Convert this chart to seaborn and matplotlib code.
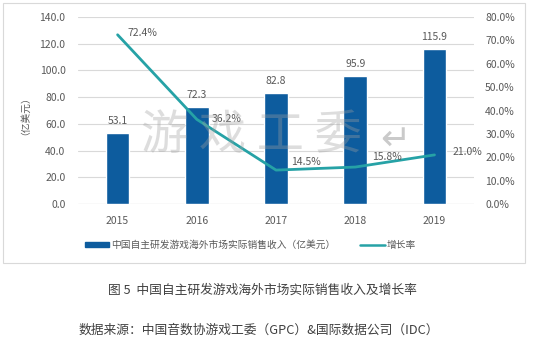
import matplotlib
matplotlib.use('Agg')
import matplotlib.pyplot as plt
import matplotlib.ticker as ticker
from matplotlib.patches import Rectangle
from matplotlib.lines import Line2D
import seaborn as sns
import pandas as pd

years = ['2015', '2016', '2017', '2018', '2019']
revenue = [53.1, 72.3, 82.8, 95.9, 115.9]
growth = [72.4, 36.2, 14.5, 15.8, 21.0]

bar_color = '#0d5c9e'
line_color = '#26a2a6'
txt = '#595959'

sns.set_theme(style='white')
plt.rcParams['font.family'] = ['Noto Sans CJK SC', 'DejaVu Sans']

df = pd.DataFrame({'year': years, 'revenue': revenue, 'growth': growth})

fig = plt.figure(figsize=(5.5, 3.59), dpi=100)
fig.patch.set_facecolor('white')
ax = fig.add_axes([0.1418, 0.4318, 0.7202, 0.5208])

sns.barplot(data=df, x='year', y='revenue', color=bar_color, width=0.3,
            saturation=1, ax=ax, zorder=2)
ax.set_ylim(0, 140)
ax.yaxis.set_major_locator(ticker.MultipleLocator(20))
ax.yaxis.set_major_formatter(ticker.StrMethodFormatter('{x:.1f}'))
ax.grid(axis='y', color='#d9d9d9', linewidth=0.8, zorder=0)
ax.set_axisbelow(True)
for s in ax.spines.values():
    s.set_visible(False)
ax.axhline(0, color='#d0d0d0', linewidth=0.8, zorder=1)
ax.tick_params(axis='y', length=0, pad=9, labelsize=7.5, labelcolor=txt)
ax.tick_params(axis='x', length=0, pad=9, labelsize=7.5, labelcolor=txt)
ax.set_xlabel('')
ax.set_ylabel('（亿美元）', fontsize=7, color=txt, labelpad=10)
ax.bar_label(ax.containers[0], fmt='%.1f', padding=5, fontsize=7.5, color=txt)

ax2 = ax.twinx()
sns.lineplot(data=df, x='year', y='growth', color=line_color, linewidth=2,
             sort=False, ax=ax2)
ax2.set_ylim(0, 80)
ax2.yaxis.set_major_locator(ticker.MultipleLocator(10))
ax2.yaxis.set_major_formatter(ticker.StrMethodFormatter('{x:.1f}%'))
for s in ax2.spines.values():
    s.set_visible(False)
ax2.tick_params(axis='y', length=0, pad=8, labelsize=7.5, labelcolor=txt)
ax2.set_ylabel('')
ax2.set_xlabel('')
ax2.set_xlim(-0.5, 4.5)

offsets = [(7, 1), (11, 0), (11, 6), (12, 7), (13, 2)]
for i, (y, g) in enumerate(zip(years, growth)):
    ax2.annotate(f'{g:.1f}%', (i, g), xytext=offsets[i], textcoords='offset points',
                 ha='left', va='center', fontsize=7.5, color=txt)

# watermark
fig.text(0.458, 0.621, '游 戏 工 委', fontsize=34, color='#a0a0a0', alpha=0.35,
         ha='center', va='center')
fig.text(0.718, 0.61, '↵', fontsize=26, color='#8a8a8a', alpha=0.45,
         ha='center', va='center', family=['DejaVu Sans'])

# legend
handles = [Rectangle((0, 0), 1, 1, color=bar_color),
           Line2D([0], [0], color=line_color, linewidth=1.8)]
labels = ['中国自主研发游戏海外市场实际销售收入（亿美元）', '增长率']
fig.legend(handles, labels, loc='center', bbox_to_anchor=(0.455, 0.318), ncol=2,
           frameon=False, fontsize=7, labelcolor=txt, handlelength=2.5,
           handleheight=0.35, handletextpad=0.2, columnspacing=2.6)

# chart frame
fig.patches.append(Rectangle((0.0055, 0.2674), 0.949, 0.724, transform=fig.transFigure,
                             fill=False, edgecolor='#d9d9d9', linewidth=0.8))

fig.text(0.477, 0.192, '图 5  中国自主研发游戏海外市场实际销售收入及增长率',
         ha='center', va='center', fontsize=9.2, color='#404040')
fig.text(0.47, 0.081, '数据来源：中国音数协游戏工委（GPC）&国际数据公司（IDC）',
         ha='center', va='center', fontsize=9.2, color='#404040')

fig.savefig('out.png', dpi=100, facecolor='white')
